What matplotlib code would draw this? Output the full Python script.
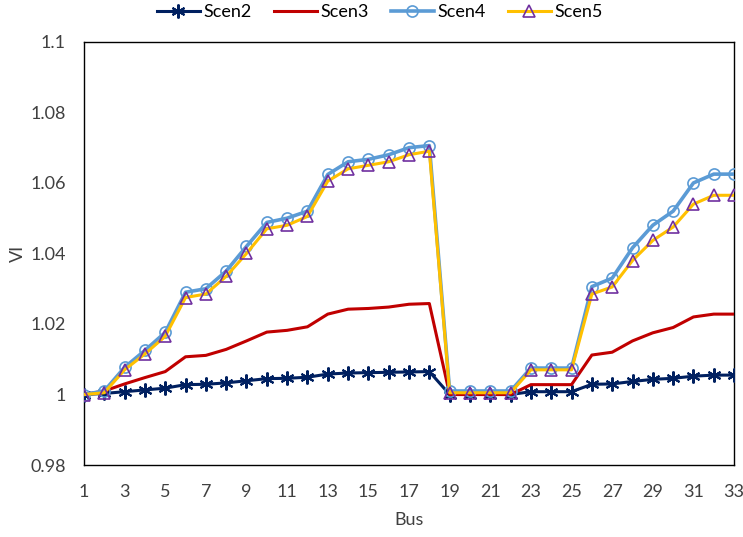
import matplotlib
matplotlib.use("Agg")
import matplotlib.pyplot as plt
import numpy as np

plt.rcParams['font.family'] = ['Lato', 'DejaVu Sans']

bus = list(range(1, 34))
scen2 = [1.000, 1.0003, 1.0008, 1.0013, 1.0018, 1.0028, 1.0029, 1.0033, 1.0039, 1.0045,
         1.0046, 1.0049, 1.0058, 1.0061, 1.0062, 1.0063, 1.0064, 1.0065, 1.000, 1.000,
         1.000, 1.000, 1.0008, 1.0008, 1.0008, 1.0029, 1.0030, 1.0037, 1.0043, 1.0046,
         1.0052, 1.0055, 1.0055]
scen3 = [1.000, 1.001, 1.003, 1.0048, 1.0065, 1.0107, 1.0111, 1.0128, 1.0152, 1.0177,
         1.0182, 1.0192, 1.0228, 1.0242, 1.0244, 1.0248, 1.0256, 1.0258, 1.000, 1.000,
         1.000, 1.000, 1.0028, 1.0028, 1.0028, 1.0112, 1.0120, 1.0152, 1.0175, 1.0190,
         1.0220, 1.0228, 1.0228]
scen4 = [1.000, 1.001, 1.0077, 1.0125, 1.0176, 1.029, 1.030, 1.035, 1.042, 1.0488,
         1.050, 1.052, 1.0624, 1.066, 1.0667, 1.068, 1.070, 1.0706, 1.001, 1.001,
         1.001, 1.001, 1.0075, 1.0075, 1.0075, 1.0306, 1.033, 1.0416, 1.048, 1.052,
         1.060, 1.0625, 1.0625]
scen5 = [1.000, 1.0005, 1.007, 1.0115, 1.0165, 1.0275, 1.0285, 1.0335, 1.040, 1.047,
         1.048, 1.0505, 1.0605, 1.064, 1.065, 1.066, 1.068, 1.069, 1.0005, 1.0005,
         1.0005, 1.0005, 1.007, 1.007, 1.007, 1.0285, 1.0305, 1.038, 1.0437, 1.0475,
         1.054, 1.0565, 1.0565]
xticks = list(range(1, 34, 2))
yticks = [0.98, 1.0, 1.02, 1.04, 1.06, 1.08, 1.1]
yticklabels = ['0.98', '1', '1.02', '1.04', '1.06', '1.08', '1.1']

fig = plt.figure(figsize=(7.43, 5.37), dpi=100)
ax = fig.add_axes([0.113, 0.134, 0.875, 0.788])

ax.plot(bus, scen2, color='#002060', lw=2.2, marker=(6, 2, 0), ms=10, mew=1.5,
        mec='#002060', label='Scen2', zorder=3)
ax.plot(bus, scen3, color='#C00000', lw=2.2, label='Scen3', zorder=3)
ax.plot(bus, scen4, color='#5B9BD5', lw=2.6, marker='o', ms=8, mfc='none', mew=1.2,
        mec='#5B9BD5', label='Scen4', zorder=4)
ax.plot(bus, scen5, color='#FFC000', lw=2.2, marker='^', ms=8, mfc='none', mew=1.2,
        mec='#7030A0', label='Scen5', zorder=5)

ax.set_xlim(1, 33)
ax.set_ylim(0.98, 1.1)
ax.set_xticks(xticks)
ax.set_xticklabels([str(t) for t in xticks])
ax.set_yticks(yticks)
ax.set_yticklabels(yticklabels)
ax.tick_params(length=0, labelsize=13, colors='#404040')
ax.tick_params(axis='x', pad=14)
ax.tick_params(axis='y', pad=13)
for s in ax.spines.values():
    s.set_color('black')
    s.set_linewidth(1.0)
ax.set_xlabel('Bus', fontsize=13, color='#404040', labelpad=8)
ax.set_ylabel('VI', fontsize=13, color='#404040', labelpad=3)

leg = ax.legend(loc='center', bbox_to_anchor=(0.455, 1.071), ncol=4, frameon=False,
                fontsize=13, handlelength=2.4, columnspacing=1.2, handletextpad=0.2,
                borderaxespad=0.0)
for t in leg.get_texts():
    t.set_color('#000000')

fig.savefig('out.png', dpi=100)
